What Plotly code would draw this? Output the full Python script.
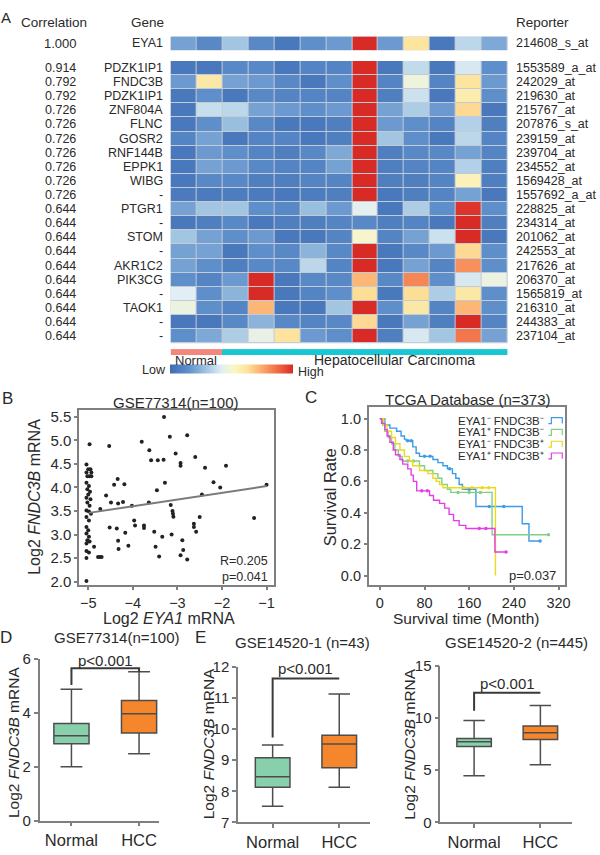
import plotly.graph_objects as go

W, H = 600, 855
FONT = "Arial, 'Liberation Sans', sans-serif"
TXT = "#2a2a2a"

# ---------------- DATA ----------------
# Panel A heatmap
columns = list(range(13))
group_codes = [0, 0, 1, 1, 1, 1, 1, 1, 1, 1, 1, 1, 1]   # 0 = Normal, 1 = HCC
eya1_corr = "1.000"
eya1_gene = "EYA1"
eya1_reporter = "214608_s_at"
eya1_row = [0.2, 0.12, 0.3, 0.12, 0.05, 0.15, 0.18, 1.0, 0.18, 0.62, 0.05, 0.35, 0.22]

correlations = ["0.914", "0.792", "0.792", "0.726", "0.726", "0.726", "0.726", "0.726", "0.726", "0.726",
                "0.644", "0.644", "0.644", "0.644", "0.644", "0.644", "0.644", "0.644", "0.644", "0.644"]
genes = ["PDZK1IP1", "FNDC3B", "PDZK1IP1", "ZNF804A", "FLNC", "GOSR2", "RNF144B", "EPPK1", "WIBG", "-",
         "PTGR1", "-", "STOM", "-", "AKR1C2", "PIK3CG", "-", "TAOK1", "-", "-"]
reporters = ["1553589_a_at", "242029_at", "219630_at", "215767_at", "207876_s_at", "239159_at", "239704_at",
             "234552_at", "1569428_at", "1557692_a_at", "228825_at", "234314_at", "201062_at", "242553_at",
             "217626_at", "206370_at", "1565819_at", "216310_at", "244383_at", "237104_at"]
heat_values = [
    [0.05, 0.05, 0.12, 0.12, 0.05, 0.10, 0.10, 1.00, 0.05, 0.36, 0.05, 0.40, 0.15],
    [0.18, 0.60, 0.20, 0.18, 0.12, 0.05, 0.15, 1.00, 0.10, 0.47, 0.10, 0.62, 0.18],
    [0.05, 0.15, 0.05, 0.12, 0.10, 0.10, 0.10, 1.00, 0.08, 0.38, 0.05, 0.58, 0.15],
    [0.05, 0.37, 0.35, 0.20, 0.18, 0.15, 0.18, 1.00, 0.20, 0.32, 0.18, 0.65, 0.05],
    [0.05, 0.15, 0.28, 0.12, 0.05, 0.05, 0.08, 1.00, 0.18, 0.15, 0.10, 0.33, 0.08],
    [0.10, 0.20, 0.05, 0.10, 0.10, 0.05, 0.08, 1.00, 0.30, 0.15, 0.05, 0.35, 0.10],
    [0.05, 0.18, 0.15, 0.10, 0.08, 0.12, 0.22, 1.00, 0.08, 0.12, 0.12, 0.20, 0.10],
    [0.05, 0.20, 0.18, 0.12, 0.10, 0.10, 0.20, 1.00, 0.08, 0.10, 0.10, 0.33, 0.08],
    [0.05, 0.12, 0.12, 0.08, 0.08, 0.10, 0.10, 1.00, 0.08, 0.08, 0.10, 0.55, 0.08],
    [0.06, 0.06, 0.07, 0.06, 0.05, 0.07, 0.08, 1.00, 0.05, 0.08, 0.10, 0.20, 0.05],
    [0.20, 0.30, 0.30, 0.15, 0.12, 0.28, 0.18, 0.43, 0.05, 0.32, 0.15, 0.98, 0.15],
    [0.05, 0.08, 0.12, 0.05, 0.08, 0.08, 0.10, 0.12, 0.08, 0.10, 0.05, 1.00, 0.08],
    [0.30, 0.20, 0.15, 0.18, 0.05, 0.05, 0.10, 0.50, 0.10, 0.20, 0.38, 1.00, 0.05],
    [0.20, 0.20, 0.05, 0.15, 0.12, 0.25, 0.12, 1.00, 0.05, 0.12, 0.18, 0.65, 0.15],
    [0.20, 0.15, 0.08, 0.12, 0.12, 0.35, 0.10, 1.00, 0.05, 0.20, 0.10, 0.80, 0.15],
    [0.15, 0.10, 0.18, 1.00, 0.05, 0.12, 0.12, 0.72, 0.12, 0.82, 0.15, 0.40, 0.46],
    [0.42, 0.15, 0.25, 1.00, 0.05, 0.10, 0.15, 0.64, 0.05, 0.64, 0.32, 0.60, 0.15],
    [0.46, 0.15, 0.10, 0.72, 0.05, 0.05, 0.30, 1.00, 0.15, 0.60, 0.10, 0.72, 0.15],
    [0.05, 0.05, 0.12, 0.25, 0.12, 0.10, 0.12, 0.65, 0.05, 0.20, 0.08, 1.00, 0.10],
    [0.15, 0.22, 0.32, 0.45, 0.63, 0.18, 0.15, 1.00, 0.08, 0.40, 0.30, 0.85, 0.20],
]

# Panel B scatter (GSE77314)
eya1_mrna = [-5.04, -5.00, -4.95, -5.04, -4.93, -5.02, -4.97, -4.93, -5.04, -4.985, -5.02, -4.96, -5.00, -5.04,
             -4.95, -5.02, -4.97, -5.04, -4.985, -4.94, -5.04, -4.985, -5.04, -5.00, -5.04, -4.985, -5.02,
             -5.04, -4.97, -5.04, -4.985, -5.04, -5.04, -4.97,
             -4.53, -3.80, -3.63, -3.59, -3.44, -3.31, -3.30, -3.17, -2.78, -3.04, -2.93, -2.93, -2.60, -2.38,
             -1.91, -4.60, -4.87, -4.78, -4.74, -4.70, -4.52, -4.49, -4.42, -4.34, -4.33, -4.36, -4.33, -4.32,
             -4.19, -4.22, -4.17, -4.10, -4.02, -3.97, -3.95, -4.73, -3.75, -3.75, -3.64, -3.52, -3.49, -3.41,
             -3.46, -3.34, -3.28, -3.15, -3.11, -3.10, -3.09, -3.13, -2.89, -2.87, -2.93, -2.78, -2.63, -2.63,
             -2.58, -2.50, -2.45, -2.19, -2.04, -1.28, -1.00]
fndc3b_mrna = [4.49, 4.39, 4.39, 4.32, 4.32, 4.24, 4.24, 4.24, 4.10, 4.03, 3.96, 3.91, 3.85, 3.78,
               3.75, 3.68, 3.61, 3.51, 3.49, 3.44, 3.37, 3.30, 3.16, 3.09, 3.02, 2.95, 2.88,
               2.81, 2.85, 2.65, 2.62, 2.50, 2.01, 4.92,
               4.88, 4.97, 4.79, 4.58, 4.58, 4.59, 5.50, 5.08, 5.11, 4.72, 4.52, 4.46, 4.65, 4.42,
               4.46, 3.83, 2.74, 2.52, 2.52, 2.52, 3.15, 3.68, 4.06, 4.18, 3.66, 3.13, 2.87, 2.69,
               4.07, 3.69, 3.04, 2.76, 3.61, 3.30, 3.19, 3.54, 3.19, 3.14, 3.68, 3.06, 2.74, 2.53,
               3.94, 2.95, 4.10, 3.63, 3.50, 3.44, 3.38, 3.00, 2.88, 2.67, 2.56, 2.47, 3.16, 3.23,
               3.06, 3.37, 3.85, 4.11, 4.00, 3.35, 4.06]
fit_x = [-4.985, -1.0]
fit_y = [3.46, 4.03]

# Panel C Kaplan-Meier (TCGA)
km_labels = ["EYA1\u207b FNDC3B\u207b", "EYA1\u207a FNDC3B\u207b",
             "EYA1\u207b FNDC3B\u207a", "EYA1\u207a FNDC3B\u207a"]
km_colors = ["#3c9be8", "#82d083", "#ecd91e", "#e43fe4"]
blue_t = [0, 9, 18, 30, 38, 44, 47, 59, 65, 71, 95, 104, 113, 121, 130, 136, 142, 148, 172, 255, 267, 287]
blue_s = [1.0, 0.96, 0.94, 0.92, 0.89, 0.87, 0.86, 0.82, 0.78, 0.76, 0.74, 0.72, 0.70, 0.68, 0.65, 0.62,
          0.58, 0.55, 0.44, 0.33, 0.22, 0.22]
blue_cens_t = [50, 56, 80, 90, 125, 160, 196, 222, 287]
blue_cens_s = [0.86, 0.86, 0.76, 0.76, 0.68, 0.55, 0.44, 0.44, 0.22]
green_t = [0, 5, 9, 15, 21, 27, 33, 40, 71, 80, 95, 104, 111, 121, 127, 201, 302]
green_s = [1.0, 0.96, 0.92, 0.88, 0.84, 0.80, 0.76, 0.73, 0.70, 0.67, 0.65, 0.62, 0.58, 0.55, 0.53, 0.26, 0.26]
green_cens_t = [50, 60, 140, 160, 180, 302]
green_cens_s = [0.73, 0.73, 0.53, 0.53, 0.53, 0.26]
yellow_t = [0, 7, 13, 21, 28, 36, 44, 53, 59, 71, 86, 95, 101, 107, 113, 207]
yellow_s = [1.0, 0.96, 0.92, 0.88, 0.84, 0.80, 0.76, 0.73, 0.70, 0.67, 0.65, 0.62, 0.60, 0.58, 0.56, 0.0]
yellow_cens_t = [150, 165, 183, 195]
yellow_cens_s = [0.56, 0.56, 0.56, 0.56]
magenta_t = [0, 3, 9, 13, 18, 24, 28, 36, 41, 50, 56, 60, 66, 89, 96, 107, 116, 124, 132, 142, 154, 206, 226]
magenta_s = [1.0, 0.97, 0.93, 0.89, 0.85, 0.80, 0.77, 0.74, 0.71, 0.68, 0.64, 0.60, 0.54, 0.51, 0.48, 0.46,
             0.43, 0.39, 0.35, 0.32, 0.30, 0.15, 0.15]
magenta_cens_t = [75, 85, 178, 190, 226]
magenta_cens_s = [0.54, 0.54, 0.30, 0.30, 0.15]

# Panels D/E box stats: [lower whisker, Q1, median, Q3, upper whisker]
box_groups = ["Normal", "HCC"]
gse77314_normal = [2.0, 2.85, 3.15, 3.6, 4.87]
gse77314_hcc = [2.48, 3.25, 3.96, 4.45, 5.52]
gse14520_1_normal = [7.52, 8.13, 8.47, 9.08, 9.49]
gse14520_1_hcc = [8.13, 8.76, 9.52, 9.8, 11.12]
gse14520_2_normal = [4.48, 7.27, 7.73, 8.03, 9.76]
gse14520_2_hcc = [5.52, 7.94, 8.58, 9.24, 11.2]
gse77314_bracket = [5.03, 5.65, 5.65, 5.52]
gse14520_1_bracket = [9.73, 11.62, 11.62]
gse14520_2_bracket = [10.7, 12.4, 12.4]

# ---------------- helpers ----------------
def dx(a, b):
    return [a / W, b / W]

def dy(top, bot):
    return [1 - bot / H, 1 - top / H]

def px(x):
    return x / W

def py(y):
    return 1 - y / H

ann = []

def text(x, y, s, size, xanchor="center", yanchor="middle", angle=0, color=TXT, align="center"):
    ann.append(dict(x=px(x), y=py(y), xref="paper", yref="paper", text=s, showarrow=False,
                    font=dict(size=size, color=color, family=FONT), xanchor=xanchor, yanchor=yanchor,
                    textangle=angle, align=align))

colorscale = [[0.0, "#3e6db4"], [0.15, "#5f8fcb"], [0.3, "#a2c6e2"], [0.42, "#e1eff4"],
              [0.52, "#fbf7c4"], [0.63, "#fde39b"], [0.76, "#fba467"], [0.88, "#ef6843"], [1.0, "#d92b26"]]

fig = go.Figure()

# ---------------- Panel A ----------------
fig.add_trace(go.Heatmap(z=heat_values, x=columns, y=list(range(len(genes))), colorscale=colorscale,
                         zmin=0, zmax=1, xgap=1, ygap=1, xaxis="x", yaxis="y", hoverinfo="skip",
                         colorbar=dict(orientation="h", x=px(233.5), xanchor="center", y=py(367.5),
                                       yanchor="middle", lenmode="pixels", len=123, thickness=9,
                                       outlinewidth=0, showticklabels=False, ticks="", xpad=0, ypad=0)))
fig.add_trace(go.Heatmap(z=[eya1_row], x=columns, y=[0], colorscale=colorscale, zmin=0, zmax=1, xgap=1,
                         showscale=False, xaxis="x2", yaxis="y2", hoverinfo="skip"))
fig.add_trace(go.Heatmap(z=[group_codes], x=columns, y=[0],
                         colorscale=[[0, "#f3877c"], [0.5, "#f3877c"], [0.5, "#17c8d4"], [1, "#17c8d4"]],
                         zmin=0, zmax=1, showscale=False, xaxis="x3", yaxis="y3", hoverinfo="skip"))

for i in range(len(genes)):
    for xx, s, anchor in [(61, correlations[i], "center"), (166, genes[i], "right"), (518, reporters[i], "left")]:
        ann.append(dict(x=px(xx), xref="paper", y=i, yref="y", text=s, showarrow=False, xanchor=anchor,
                        yanchor="middle", font=dict(size=12.5, color=TXT, family=FONT)))
text(61, 35, eya1_corr, 13)
text(166, 35, eya1_gene, 12.5, xanchor="right")
text(518, 35, eya1_reporter, 12.5, xanchor="left")
text(54, 14, "Correlation", 13.5)
text(167, 14, "Gene", 13.5, xanchor="right")
text(518, 14, "Reporter", 13.5, xanchor="left")
text(6, 9, "A", 15)
text(198, 359, "Normal", 13)
text(398, 358, "Hepatocellular Carcinoma", 14)
text(169, 368, "Low", 12.5, xanchor="right")
text(298, 370, "High", 12.5, xanchor="left")

# ---------------- Panel B ----------------
fig.add_trace(go.Scatter(x=eya1_mrna, y=fndc3b_mrna, mode="markers", xaxis="x4", yaxis="y4",
                         marker=dict(color="#222222", size=4), hoverinfo="skip", showlegend=False))
fig.add_trace(go.Scatter(x=fit_x, y=fit_y, mode="lines", xaxis="x4", yaxis="y4",
                         line=dict(color="#7a7a7a", width=2), hoverinfo="skip", showlegend=False))
text(8, 397, "B", 17)
text(177, 401, "GSE77314(n=100)", 15)
text(34, 498, "Log2 <i>FNDC3B</i> mRNA", 16, angle=-90)
text(170, 622, "Log2 <i>EYA1</i> mRNA", 16)
text(272, 571, "R=0.205<br>p=0.041", 12.5, xanchor="right", align="right")

# ---------------- Panel C ----------------
km_series = [(blue_t, blue_s, blue_cens_t, blue_cens_s), (green_t, green_s, green_cens_t, green_cens_s),
             (yellow_t, yellow_s, yellow_cens_t, yellow_cens_s),
             (magenta_t, magenta_s, magenta_cens_t, magenta_cens_s)]
for (t, s, ct, cs), col in zip(km_series, km_colors):
    fig.add_trace(go.Scatter(x=t, y=s, mode="lines", line=dict(color=col, width=1.4, shape="hv"),
                             xaxis="x5", yaxis="y5", hoverinfo="skip", showlegend=False))
    fig.add_trace(go.Scatter(x=ct, y=cs, mode="markers", marker=dict(color=col, size=3.5),
                             xaxis="x5", yaxis="y5", hoverinfo="skip", showlegend=False))
shapes = []
leg_y = [420, 432, 444, 456]
for lab, col, yy in zip(km_labels, km_colors, leg_y):
    text(551, yy, lab, 11.5, xanchor="right")
    path = "M {a},{b} L {c},{b} L {c},{d} L {e},{d} L {e},{b}".format(
        a=px(553), b=py(yy + 3), c=px(556), d=py(yy - 3), e=px(567))
    shapes.append(dict(type="path", path=path, xref="paper", yref="paper", line=dict(color=col, width=1.2)))
text(314, 396, "C", 17)
text(472, 398, "TCGA Database (n=373)", 15)
text(333, 498, "Survival Rate", 16.5, angle=-90)
text(470, 622, "Survival time (Month)", 15.5)
text(563, 578, "p=0.037", 13, xanchor="right")

# ---------------- Panels D / E ----------------
GREEN = "#88d0ab"
ORANGE = "#f5862b"
box_sets = [("x6", "y6", gse77314_normal, gse77314_hcc, gse77314_bracket),
            ("x7", "y7", gse14520_1_normal, gse14520_1_hcc, gse14520_1_bracket),
            ("x8", "y8", gse14520_2_normal, gse14520_2_hcc, gse14520_2_bracket)]
for xa, ya, nrm, hcc, br in box_sets:
    for grp, st, col in [(box_groups[0], nrm, GREEN), (box_groups[1], hcc, ORANGE)]:
        fig.add_trace(go.Box(x=[grp], lowerfence=[st[0]], q1=[st[1]], median=[st[2]], q3=[st[3]],
                             upperfence=[st[4]], fillcolor=col, line=dict(color="#4d4d4d", width=1.5),
                             width=0.52, whiskerwidth=0.62, boxpoints=False, xaxis=xa, yaxis=ya,
                             hoverinfo="skip", showlegend=False))
    bx = ["Normal", "Normal", "HCC", "HCC"][:len(br)]
    fig.add_trace(go.Scatter(x=bx, y=br, mode="lines", line=dict(color="#3a3a3a", width=2),
                             xaxis=xa, yaxis=ya, hoverinfo="skip", showlegend=False))

ann.append(dict(x=0.5, y=5.93, xref="x6", yref="y6", text="p<0.001", showarrow=False,
                font=dict(size=15, color=TXT, family=FONT)))
ann.append(dict(x=0.5, y=11.94, xref="x7", yref="y7", text="p<0.001", showarrow=False,
                font=dict(size=15, color=TXT, family=FONT)))
ann.append(dict(x=0.5, y=13.3, xref="x8", yref="y8", text="p<0.001", showarrow=False,
                font=dict(size=15, color=TXT, family=FONT)))
text(6, 641, "D", 17)
text(118, 641, "GSE77314(n=100)", 15)
text(202, 641, "E", 17)
text(305, 646, "GSE14520-1 (n=43)", 15)
text(521, 646, "GSE14520-2 (n=445)", 15)
text(13, 748, "Log2 <i>FNDC3B</i> mRNA", 15.5, angle=-90)
text(210, 750, "Log2 <i>FNDC3B</i> mRNA", 15.5, angle=-90)
text(413, 750, "Log2 <i>FNDC3B</i> mRNA", 15.5, angle=-90)

# heatmap background (grid lines)
shapes.append(dict(type="rect", xref="paper", yref="paper", x0=px(172), x1=px(512), y0=py(341), y1=py(53),
                   fillcolor="#c3cbd6", line=dict(width=0), layer="below"))
shapes.append(dict(type="rect", xref="paper", yref="paper", x0=px(172), x1=px(512), y0=py(42), y1=py(28),
                   fillcolor="#c3cbd6", line=dict(width=0), layer="below"))

# ---------------- axes ----------------
hidden = dict(visible=False, showgrid=False, zeroline=False, fixedrange=True)
AX = "#808080"

def boxed(dom, rng, tickvals, fmt=None, size=15):
    d = dict(domain=dom, range=rng, tickvals=tickvals, showline=True, mirror=True, linecolor=AX,
             linewidth=2, ticks="outside", ticklen=3, tickcolor=AX, tickwidth=1.5, showgrid=False,
             zeroline=False, tickfont=dict(size=size, color=TXT, family=FONT))
    if fmt:
        d["tickformat"] = fmt
    return d

def open_ax(dom, rng, tickvals=None, cat=False):
    d = dict(domain=dom, range=rng, showline=True, linecolor=AX, linewidth=1.5, ticks="outside",
             ticklen=4, tickcolor=AX, tickwidth=1.5, showgrid=False, zeroline=False,
             tickfont=dict(size=15, color=TXT, family=FONT))
    if tickvals is not None:
        d["tickvals"] = tickvals
    if cat:
        d["type"] = "category"
        d["categoryorder"] = "array"
        d["categoryarray"] = box_groups
        d["tickfont"] = dict(size=16.5, color=TXT, family=FONT)
    return d

fig.update_layout(
    width=W, height=H, margin=dict(l=0, r=0, t=0, b=0), paper_bgcolor="white", plot_bgcolor="white",
    showlegend=False, font=dict(family=FONT, color=TXT),
    xaxis=dict(hidden, domain=dx(172, 512), range=[-0.5, 12.5]),
    yaxis=dict(hidden, domain=dy(53, 341), range=[19.5, -0.5]),
    xaxis2=dict(hidden, domain=dx(172, 512), range=[-0.5, 12.5], anchor="y2"),
    yaxis2=dict(hidden, domain=dy(28, 42), range=[-0.5, 0.5], anchor="x2"),
    xaxis3=dict(hidden, domain=dx(172, 512), range=[-0.5, 12.5], anchor="y3"),
    yaxis3=dict(hidden, domain=dy(347, 353), range=[-0.5, 0.5], anchor="x3"),
    xaxis4=dict(boxed(dx(80, 276), [-5.2, -0.84], [-5, -4, -3, -2, -1], size=14.5), anchor="y4"),
    yaxis4=dict(boxed(dy(409, 588), [1.92, 5.65], [2.0, 2.5, 3.0, 3.5, 4.0, 4.5, 5.0, 5.5], ".1f"),
                anchor="x4"),
    xaxis5=dict(boxed(dx(372, 570), [-19.6, 332], [0, 80, 160, 240, 320], size=14.5), anchor="y5"),
    yaxis5=dict(boxed(dy(406, 588), [-0.0625, 1.075], [0, 0.2, 0.4, 0.6, 0.8, 1.0], ".1f", size=14.5),
                anchor="x5"),
    xaxis6=dict(open_ax(dx(40, 160), [-0.47, 1.29], cat=True), anchor="y6"),
    yaxis6=dict(open_ax(dy(663, 828), [0, 6], [0, 2, 4, 6]), anchor="x6"),
    xaxis7=dict(open_ax(dx(240, 373), [-0.52, 1.46], cat=True), anchor="y7"),
    yaxis7=dict(open_ax(dy(671, 830), [7, 12], [7, 8, 9, 10, 11, 12]), anchor="x7"),
    xaxis8=dict(open_ax(dx(444, 577), [-0.51, 1.48], cat=True), anchor="y8"),
    yaxis8=dict(open_ax(dy(670, 830), [0, 15], [0, 5, 10, 15]), anchor="x8"),
    annotations=ann, shapes=shapes,
)

fig.write_html("out.html", config={"displayModeBar": False},
               post_script="document.body.style.margin='0px';document.body.style.padding='0px';"
                           "document.documentElement.style.overflow='hidden';document.body.style.overflow='hidden';")
